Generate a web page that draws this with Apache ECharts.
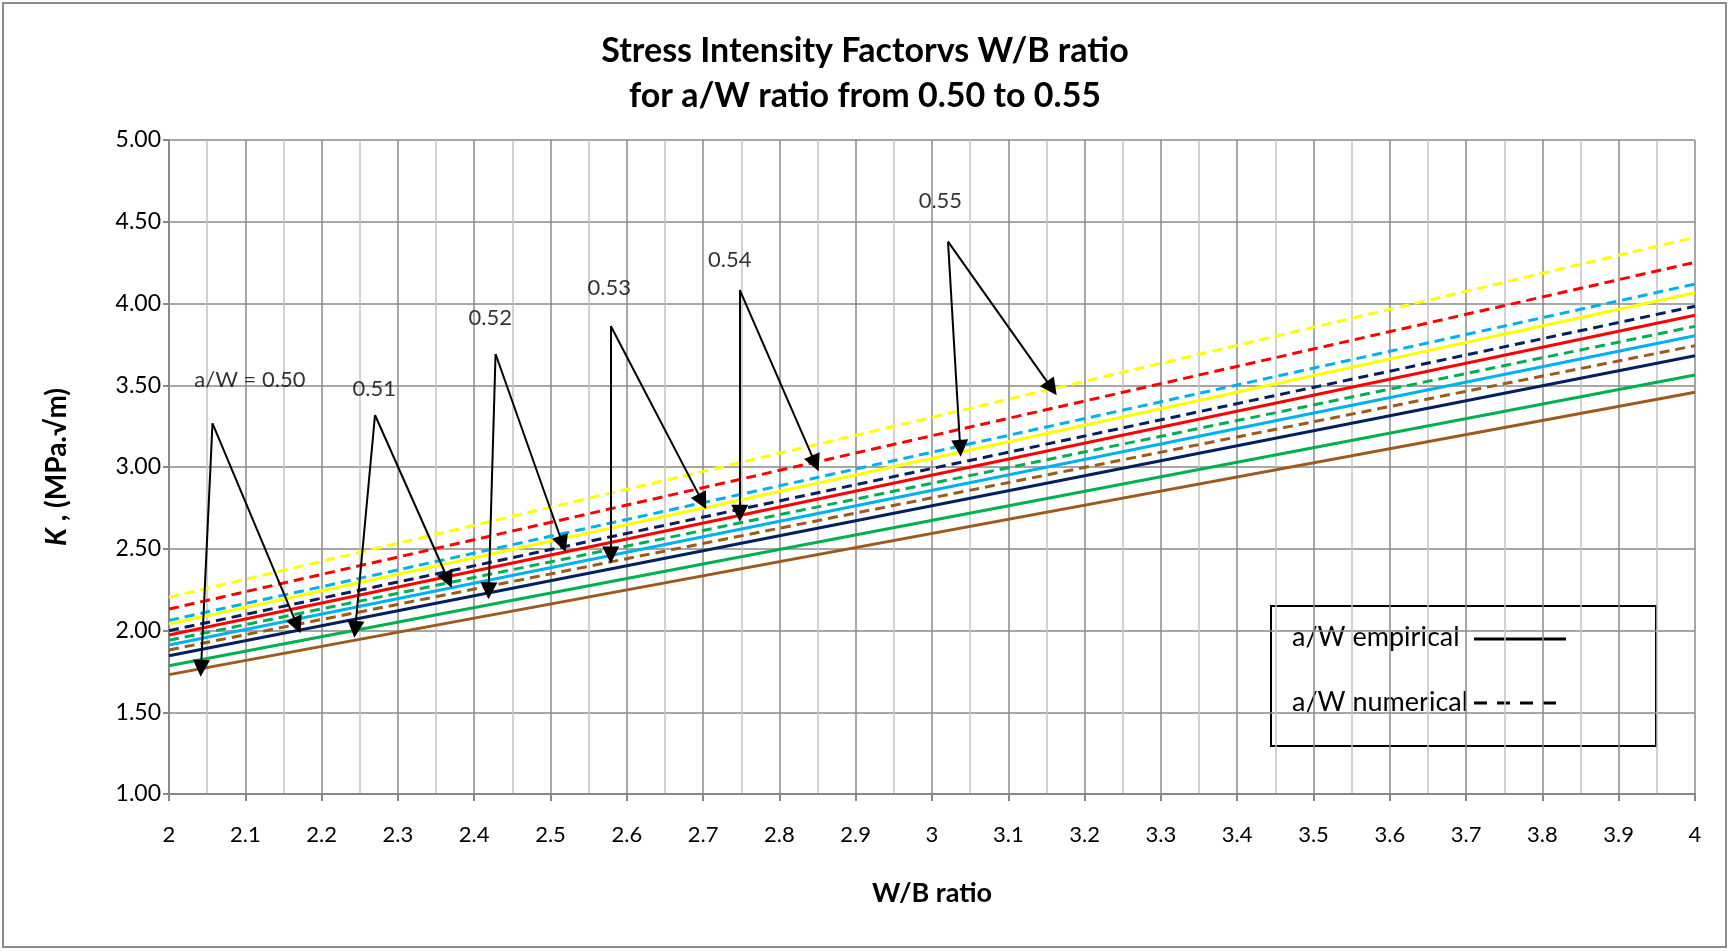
<!DOCTYPE html>
<html><head><meta charset="utf-8">
<script src="https://cdn.jsdelivr.net/npm/echarts@6/dist/echarts.min.js"></script>
<style>html,body{margin:0;padding:0;background:#fff}#c{width:1730px;height:951px}</style>
</head><body><div id="c"></div><script>
// ---- data ----
const wbRatio = [2, 4];
const aWLevels = ['0.50', '0.51', '0.52', '0.53', '0.54', '0.55'];
const kEmpirical050 = [1.730, 3.457];
const kEmpirical051 = [1.785, 3.563];
const kEmpirical052 = [1.846, 3.681];
const kEmpirical053 = [1.911, 3.803];
const kEmpirical054 = [1.972, 3.928];
const kEmpirical055 = [2.040, 4.066];
const kNumerical050 = [1.881, 3.742];
const kNumerical051 = [1.940, 3.860];
const kNumerical052 = [1.999, 3.983];
const kNumerical053 = [2.062, 4.119];
const kNumerical054 = [2.131, 4.252];
const kNumerical055 = [2.203, 4.405];
// annotations (data coordinates)
const annoText = ['a/W = 0.50', '0.51', '0.52', '0.53', '0.54', '0.55'];
const annoTextX = [2.106, 2.269, 2.421, 2.577, 2.735, 3.011];
const annoTextY = [3.532, 3.475, 3.912, 4.093, 4.266, 4.629];
const apexX = [2.057, 2.270, 2.428, 2.579, 2.748, 3.021];
const apexY = [3.267, 3.318, 3.691, 3.862, 4.083, 4.378];
const empTipX = [2.042, 2.244, 2.419, 2.579, 2.748, 3.037];
const empTipY = [1.769, 2.007, 2.243, 2.462, 2.717, 3.114];
const numTipX = [2.168, 2.366, 2.516, 2.699, 2.847, 3.157];
const numTipY = [2.031, 2.309, 2.529, 2.788, 3.022, 3.481];

// ---- styles ----
const colors = ['#9C5A1D', '#00B050', '#002060', '#00B0F0', '#FF0000', '#FFFF00'];
const FONT = 'Lato';
const empSets = [kEmpirical050, kEmpirical051, kEmpirical052, kEmpirical053, kEmpirical054, kEmpirical055];
const numSets = [kNumerical050, kNumerical051, kNumerical052, kNumerical053, kNumerical054, kNumerical055];

const series = [];
empSets.forEach((arr, i) => {
  series.push({
    name: 'a/W ' + aWLevels[i] + ' empirical', type: 'line', symbol: 'none', silent: true,
    data: wbRatio.map((x, j) => [x, arr[j]]),
    lineStyle: { color: colors[i], width: 3, type: 'solid' }, z: 3
  });
});
numSets.forEach((arr, i) => {
  series.push({
    name: 'a/W ' + aWLevels[i] + ' numerical', type: 'line', symbol: 'none', silent: true,
    data: wbRatio.map((x, j) => [x, arr[j]]),
    lineStyle: { color: colors[i], width: 3, type: [10, 6] }, z: 3
  });
});
const arrowData = [];
annoText.forEach((t, i) => {
  arrowData.push([{ coord: [apexX[i], apexY[i]] }, { coord: [empTipX[i], empTipY[i]] }]);
  arrowData.push([{ coord: [apexX[i], apexY[i]] }, { coord: [numTipX[i], numTipY[i]] }]);
});
series.push({
  name: 'annotations', type: 'scatter', symbolSize: 0, silent: true, z: 5,
  data: annoText.map((t, i) => ({ name: t, value: [annoTextX[i], annoTextY[i]] })),
  label: { show: true, position: 'inside', formatter: '{b}', color: '#000', fontFamily: FONT, fontSize: 22 },
  markLine: {
    silent: true, animation: false,
    symbol: ['none', 'triangle'], symbolSize: 17,
    lineStyle: { color: '#000', width: 2, type: 'solid' },
    label: { show: false },
    emphasis: { disabled: true },
    data: arrowData
  }
});

const chart = echarts.init(document.getElementById('c'));
chart.setOption({
  animation: false,
  backgroundColor: '#fff',
  textStyle: { fontFamily: FONT },
  title: {
    text: 'Stress Intensity Factorvs W/B ratio\nfor a/W ratio from 0.50 to 0.55',
    left: 'center', top: 24,
    textStyle: { fontFamily: FONT, fontWeight: 'bold', fontSize: 34, lineHeight: 45, color: '#000' }
  },
  grid: { left: 169, right: 35, top: 140, bottom: 157, containLabel: false },
  xAxis: {
    type: 'value', min: 2, max: 4, interval: 0.1,
    name: 'W/B ratio', nameLocation: 'middle', nameGap: 86,
    nameTextStyle: { fontFamily: FONT, fontWeight: 'bold', fontSize: 27, color: '#000' },
    axisLine: { show: true, lineStyle: { color: '#888', width: 2 } },
    axisTick: { show: true, length: 7, lineStyle: { color: '#888', width: 2 } },
    axisLabel: { margin: 30, color: '#000', fontFamily: FONT, fontSize: 22 },
    splitLine: { show: true, lineStyle: { color: '#8a8a8a', width: 1.5 } },
    minorTick: { show: false, splitNumber: 2 },
    minorSplitLine: { show: true, lineStyle: { color: '#c4c4c4', width: 1.5 } }
  },
  yAxis: {
    type: 'value', min: 1, max: 5, interval: 0.5,
    name: '{i|K} , (MPa.√m)', nameLocation: 'middle', nameGap: 98, nameRotate: 90,
    nameTextStyle: { fontFamily: FONT, fontWeight: 'bold', fontSize: 28, color: '#000',
      rich: { i: { fontFamily: FONT, fontWeight: 'bold', fontStyle: 'italic', fontSize: 28, color: '#000' } } },
    axisLine: { show: true, lineStyle: { color: '#888', width: 2 } },
    axisTick: { show: true, length: 6, lineStyle: { color: '#888', width: 2 } },
    axisLabel: { margin: 8, color: '#000', fontFamily: FONT, fontSize: 23, formatter: v => v.toFixed(2) },
    splitLine: { show: true, lineStyle: { color: '#8a8a8a', width: 1.5 } }
  },
  graphic: [
    { type: 'rect', z: 100, silent: true, shape: { x: 3, y: 3, width: 1723, height: 944 },
      style: { fill: 'none', stroke: '#8c8c8c', lineWidth: 2 } },
    { type: 'group', z: 100, silent: true, children: [
      { type: 'rect', shape: { x: 1271, y: 606, width: 385, height: 140 },
        style: { fill: '#fff', stroke: '#000', lineWidth: 2 } },
      { type: 'text', x: 1292, y: 637, style: { text: 'a/W empirical', fontFamily: FONT, fontSize: 27, fill: '#000', verticalAlign: 'middle' } },
      { type: 'line', shape: { x1: 1474, y1: 639, x2: 1566, y2: 639 }, style: { stroke: '#000', lineWidth: 3 } },
      { type: 'text', x: 1292, y: 702, style: { text: 'a/W numerical', fontFamily: FONT, fontSize: 27, fill: '#000', verticalAlign: 'middle' } },
      { type: 'line', shape: { x1: 1474, y1: 703, x2: 1557, y2: 703 }, style: { stroke: '#000', lineWidth: 3, lineDash: [13, 10] } }
    ] }
  ],
  series: series
});
</script></body></html>
